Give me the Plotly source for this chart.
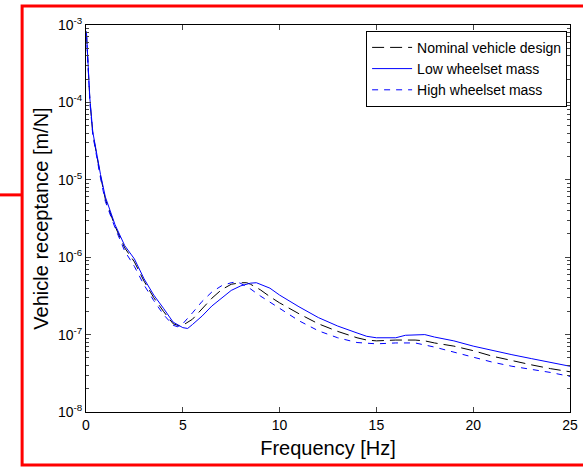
import plotly.graph_objects as go

# ---------------- data ----------------
freq_nom = [0.02, 0.1, 0.2, 0.35, 0.5, 0.75, 1, 1.5, 2, 2.5, 3, 3.5, 4, 4.5, 4.85, 5, 5.5, 6, 6.5, 7,
            7.5, 8, 8.3, 8.5, 9, 9.5, 10, 11, 12, 13, 14, 14.5, 15, 16, 17, 17.5, 18, 19, 20, 21, 22, 23, 24, 25]
rec_nom = [8.1e-4, 3.0e-4, 1.07e-4, 3.98e-5, 2.4e-5, 1.12e-5, 5.6e-6, 2.51e-6, 1.32e-6, 8.7e-7, 4.9e-7,
           3.0e-7, 2.0e-7, 1.38e-7, 1.29e-7, 1.32e-7, 1.58e-7, 2.19e-7, 2.95e-7, 3.8e-7, 4.47e-7, 4.68e-7,
           4.68e-7, 4.47e-7, 3.8e-7, 3.09e-7, 2.57e-7, 1.86e-7, 1.38e-7, 1.10e-7, 9.1e-8, 8.5e-8, 8.3e-8,
           8.5e-8, 8.5e-8, 8.3e-8, 7.8e-8, 7.1e-8, 6.2e-8, 5.25e-8, 4.57e-8, 4.07e-8, 3.63e-8, 3.31e-8]

freq_low = [0.02, 0.1, 0.2, 0.35, 0.5, 0.75, 1, 1.5, 2, 2.5, 3, 3.5, 4, 4.5, 5, 5.25, 5.5, 6, 6.5, 7,
            7.5, 8, 8.5, 8.8, 9, 9.5, 10, 10.5, 11, 12, 13, 14, 14.5, 15, 16, 16.5, 17, 17.5, 18, 19, 20,
            21, 22, 23, 24, 25]
rec_low = [8.3e-4, 3.16e-4, 1.12e-4, 4.17e-5, 2.51e-5, 1.17e-5, 6.0e-6, 2.63e-6, 1.41e-6, 9.5e-7, 5.25e-7,
           3.24e-7, 2.19e-7, 1.45e-7, 1.23e-7, 1.20e-7, 1.35e-7, 1.74e-7, 2.34e-7, 2.95e-7, 3.72e-7,
           4.27e-7, 4.62e-7, 4.68e-7, 4.47e-7, 3.98e-7, 3.24e-7, 2.69e-7, 2.29e-7, 1.66e-7, 1.29e-7,
           1.05e-7, 9.5e-8, 9.1e-8, 9.1e-8, 9.8e-8, 1.0e-7, 1.0e-7, 9.3e-8, 8.3e-8, 7.1e-8, 6.2e-8,
           5.5e-8, 4.9e-8, 4.4e-8, 3.9e-8]

freq_high = [0.02, 0.1, 0.2, 0.35, 0.5, 0.75, 1, 1.5, 2, 2.5, 3, 3.5, 4, 4.5, 4.75, 5, 5.5, 6, 6.5, 7,
             7.5, 7.8, 8, 8.5, 9, 9.5, 10, 11, 12, 13, 14, 15, 16, 17, 18, 19, 20, 21, 22, 23, 24, 25]
rec_high = [7.9e-4, 2.82e-4, 1.0e-4, 3.8e-5, 2.24e-5, 1.05e-5, 5.25e-6, 2.4e-6, 1.2e-6, 7.6e-7, 4.37e-7,
            2.75e-7, 1.82e-7, 1.32e-7, 1.26e-7, 1.38e-7, 1.91e-7, 2.69e-7, 3.55e-7, 4.27e-7, 4.68e-7,
            4.79e-7, 4.57e-7, 3.89e-7, 3.16e-7, 2.63e-7, 2.14e-7, 1.51e-7, 1.12e-7, 9.1e-8, 7.9e-8,
            7.6e-8, 7.8e-8, 7.8e-8, 6.9e-8, 5.9e-8, 5.1e-8, 4.4e-8, 3.9e-8, 3.55e-8, 3.24e-8, 2.88e-8]

series_names = ["Nominal vehicle design", "Low wheelset mass", "High wheelset mass"]
x_ticks = [0, 5, 10, 15, 20, 25]
y_decades = [1e-8, 1e-7, 1e-6, 1e-5, 1e-4, 1e-3]
y_tick_text = ["10<sup>-8</sup>", "10<sup>-7</sup>", "10<sup>-6</sup>", "10<sup>-5</sup>",
               "10<sup>-4</sup>", "10<sup>-3</sup>"]

# ---------------- figure ----------------
fig = go.Figure()
fig.add_trace(go.Scatter(x=freq_nom, y=rec_nom, mode="lines", name=series_names[0],
                         line=dict(color="black", width=1, dash="12px,6px")))
fig.add_trace(go.Scatter(x=freq_low, y=rec_low, mode="lines", name=series_names[1],
                         line=dict(color="#0000ff", width=1)))
fig.add_trace(go.Scatter(x=freq_high, y=rec_high, mode="lines", name=series_names[2],
                         line=dict(color="#0000ff", width=1, dash="6px,6px")))

minor_vals = [m * d for d in y_decades[:-1] for m in range(2, 10)]

font_family = "Liberation Sans, Arial, sans-serif"
fig.update_layout(
    width=583, height=467,
    margin=dict(l=86, r=5, t=25, b=55),
    paper_bgcolor="white", plot_bgcolor="white",
    font=dict(family=font_family, size=14, color="black"),
    showlegend=True,
    legend=dict(x=0.994, y=0.985, xanchor="right", yanchor="top",
                bgcolor="white", bordercolor="black", borderwidth=1,
                font=dict(size=14), itemwidth=40),
    xaxis=dict(range=[0, 25], tickvals=x_ticks, ticks="inside", ticklen=5,
               showline=True, linecolor="black", linewidth=1, mirror="ticks",
               showgrid=False, zeroline=False, ticklabeloverflow="allow",
               title=dict(text="Frequency [Hz]", font=dict(size=20), standoff=9),
               tickfont=dict(size=14)),
    yaxis=dict(type="log", range=[-8, -3], tickvals=y_decades, ticktext=y_tick_text,
               ticks="inside", ticklen=5, showline=True, linecolor="black", linewidth=1,
               mirror="ticks", showgrid=False, zeroline=False, ticklabeloverflow="allow",
               minor=dict(tickvals=minor_vals, ticks="inside", ticklen=3, showgrid=False),
               title=dict(text="Vehicle receptance [m/N]", font=dict(size=20), standoff=3),
               tickfont=dict(size=14)),
)

# red annotation frame around the figure
red = dict(color="red", width=3)
fig.add_shape(type="rect", xref="paper", yref="paper",
              x0=-0.132, x1=1.03, y0=-0.137, y1=1.049, line=red, layer="above")
fig.add_shape(type="line", xref="paper", yref="paper",
              x0=-0.18, x1=-0.132, y0=0.561, y1=0.561, line=red, layer="above")

fig.write_html("out.html", config={"displayModeBar": False},
               post_script="document.body.style.margin='0';document.body.style.padding='0';")
